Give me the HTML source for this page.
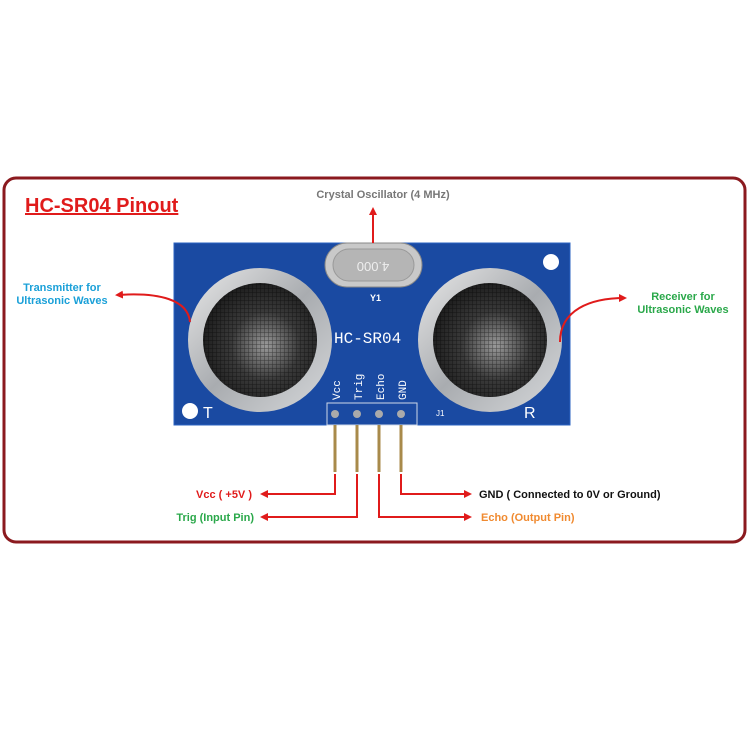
<!DOCTYPE html>
<html><head><meta charset="utf-8"><style>
body{margin:0;background:#fff;width:750px;height:750px;overflow:hidden;font-family:"Liberation Sans",sans-serif}
</style></head><body>
<svg width="750" height="750" viewBox="0 0 750 750" xmlns="http://www.w3.org/2000/svg" font-family="Liberation Sans, sans-serif">
<defs>
<marker id="ah" markerWidth="8" markerHeight="8" refX="6" refY="4" orient="auto" markerUnits="userSpaceOnUse"><path d="M0,0 L8,4 L0,8 Z" fill="#e01b1b"/></marker>
<radialGradient id="mesh" cx="0.55" cy="0.55" r="0.6"><stop offset="0" stop-color="#9a9a9a"/><stop offset="0.5" stop-color="#3a3a3a"/><stop offset="1" stop-color="#1a1a1a"/></radialGradient>
<pattern id="grid" width="4" height="4" patternUnits="userSpaceOnUse"><path d="M0,0 H4 M0,0 V4" stroke="#000" stroke-width="1" opacity="0.5"/></pattern>
<linearGradient id="ring" x1="0" y1="0" x2="1" y2="1"><stop offset="0" stop-color="#e8e8e8"/><stop offset="0.5" stop-color="#a9acb0"/><stop offset="1" stop-color="#d6d8da"/></linearGradient>
</defs>
<rect x="4" y="178" width="741" height="364" rx="12" fill="none" stroke="#8b1a1f" stroke-width="3"/>
<text x="25" y="212" font-size="20" font-weight="bold" fill="#e01b1b" text-decoration="underline">HC-SR04 Pinout</text>
<!-- board -->
<rect x="174" y="243" width="396" height="182" fill="#1a4aa2" stroke="#2b63c2"/>
<circle cx="551" cy="262" r="8" fill="#fff"/>
<circle cx="190" cy="411" r="8" fill="#fff"/>
<!-- crystal -->
<rect x="325" y="243" width="97" height="44" rx="22" fill="#c9c9c9" stroke="#888"/>
<rect x="333" y="249" width="81" height="32" rx="16" fill="#b5b5b5" stroke="#999"/>
<text x="373" y="270" font-size="13" fill="#eee" text-anchor="middle" transform="rotate(180 373 266)">4.000</text>
<text x="370" y="301" font-size="9" fill="#fff" font-weight="bold">Y1</text>
<!-- transducers -->
<circle cx="260" cy="340" r="72" fill="url(#ring)"/>
<circle cx="260" cy="340" r="57" fill="url(#mesh)"/>
<circle cx="260" cy="340" r="57" fill="url(#grid)"/>
<circle cx="490" cy="340" r="72" fill="url(#ring)"/>
<circle cx="490" cy="340" r="57" fill="url(#mesh)"/>
<circle cx="490" cy="340" r="57" fill="url(#grid)"/>
<text x="203" y="418" font-size="16" fill="#fff">T</text>
<text x="524" y="418" font-size="16" fill="#fff">R</text>
<text x="334" y="343" font-size="16" fill="#fff" font-family="Liberation Mono, monospace">HC-SR04</text>
<text x="436" y="416" font-size="8" fill="#fff">J1</text>
<g font-size="11" fill="#fff" font-family="Liberation Mono, monospace">
<text transform="translate(340,400) rotate(-90)">Vcc</text>
<text transform="translate(362,400) rotate(-90)">Trig</text>
<text transform="translate(384,400) rotate(-90)">Echo</text>
<text transform="translate(406,400) rotate(-90)">GND</text>
</g>
<rect x="327" y="403" width="90" height="22" fill="none" stroke="#cfd8e8"/>
<g fill="#aaa"><circle cx="335" cy="414" r="4"/><circle cx="357" cy="414" r="4"/><circle cx="379" cy="414" r="4"/><circle cx="401" cy="414" r="4"/></g>
<g stroke="#a88a4a" stroke-width="3"><line x1="335" y1="425" x2="335" y2="472"/><line x1="357" y1="425" x2="357" y2="472"/><line x1="379" y1="425" x2="379" y2="472"/><line x1="401" y1="425" x2="401" y2="472"/></g>
<!-- arrows -->
<g stroke="#e01b1b" stroke-width="2" fill="none" marker-end="url(#ah)">
<line x1="373" y1="243" x2="373" y2="209" />
<path d="M190,322 C188,300 160,292 117,295"/>
<path d="M560,342 C560,310 590,298 625,298"/>
<path d="M335,474 V494 H262"/>
<path d="M357,474 V517 H262"/>
<path d="M379,474 V517 H470"/>
<path d="M401,474 V494 H470"/>
</g>
<g font-size="11" font-weight="bold">
<text x="383" y="198" fill="#777" text-anchor="middle">Crystal Oscillator (4 MHz)</text>
<text x="62" y="291" fill="#1aa0d8" text-anchor="middle">Transmitter for</text>
<text x="62" y="304" fill="#1aa0d8" text-anchor="middle">Ultrasonic Waves</text>
<text x="683" y="300" fill="#2aa84a" text-anchor="middle">Receiver for</text>
<text x="683" y="313" fill="#2aa84a" text-anchor="middle">Ultrasonic Waves</text>
<text x="252" y="498" fill="#e01b1b" text-anchor="end">Vcc ( +5V )</text>
<text x="254" y="521" fill="#2aa84a" text-anchor="end">Trig (Input Pin)</text>
<text x="479" y="498" fill="#111">GND ( Connected to 0V or Ground)</text>
<text x="481" y="521" fill="#f08a30">Echo (Output Pin)</text>
</g>
</svg>
</body></html>
